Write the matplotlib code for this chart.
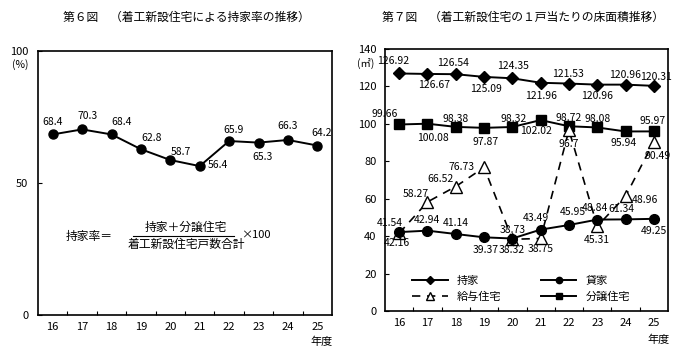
import numpy as np
import matplotlib.pyplot as plt
from matplotlib.lines import Line2D

plt.rcParams['font.family'] = ['Noto Sans CJK JP', 'DejaVu Sans']

# data
years = ['16', '17', '18', '19', '20', '21', '22', '23', '24', '25']
rate = [68.4, 70.3, 68.4, 62.8, 58.7, 56.4, 65.9, 65.3, 66.3, 64.2]

mochiie = [126.92, 126.67, 126.54, 125.09, 124.35, 121.96, 121.53, 120.96, 120.96, 120.31]
bunjo = [99.66, 100.08, 98.38, 97.87, 98.32, 102.02, 98.72, 98.08, 95.94, 95.97]
kashiya = [42.16, 42.94, 41.14, 39.37, 38.73, 43.49, 45.95, 48.84, 48.96, 49.25]
kyuyo = [41.54, 58.27, 66.52, 76.73, 38.32, 38.75, 96.7, 45.31, 61.34, 90.49]

# label texts as printed on the chart (24 labels are swapped in the original)
kashiya_txt = ['42.16', '42.94', '41.14', '39.37', '38.73', '43.49', '45.95', '48.84', '61.34', '49.25']
kyuyo_txt = ['41.54', '58.27', '66.52', '76.73', '38.32', '38.75', '96.7', '45.31', '48.96', '90.49']

# label offsets in pixels (dx, dy)
rate_off = [(0, 12), (5, 13), (10, 12), (11, 11), (11, 8), (18, 1), (4, 11), (4, -14), (0, 14), (4, 13)]
mochi_off = [(-6, 12), (7, -11), (-3, 11), (2, -12), (1, 12), (0, -13), (-1, 10), (0, -11), (0, 10), (2, 9)]
bunjo_off = [(-14, 10), (6, -14), (0, 8), (2, -14), (1, 8), (-5, -11), (0, 8), (0, 8), (-2, -12), (-1, 10)]
kyuyo_off = [(-9, 10), (-12, 8), (-15, 8), (-23, 0), (-1, -11), (0, -11), (0, -14), (0, -14), (19, -4), (4, -14)]
kashi_off = [(-2, -11), (0, 11), (0, 11), (2, -13), (0, 9), (-5, 12), (4, 13), (-2, 12), (-4, 10), (0, -12)]

fig = plt.figure(figsize=(6.89, 3.58), dpi=100)
W, H = 689, 358

def box(x0, y0, x1, y1):
    return [x0 / W, 1 - y1 / H, (x1 - x0) / W, (y1 - y0) / H]

x = np.arange(len(years))
lab_fs = 7.5

# ---- left chart ----
ax1 = fig.add_axes(box(38, 51, 332, 315))
ax1.plot(x, rate, color='black', lw=1.4, marker='o', ms=6.5)
for i, v in enumerate(rate):
    ax1.annotate(f'{v:.1f}', (x[i], v), xytext=rate_off[i], textcoords='offset pixels',
                 ha='center', va='center', fontsize=lab_fs)
ax1.set_ylim(0, 100)
ax1.set_yticks([0, 50, 100])
ax1.set_xlim(-0.5, 9.5)
ax1.set_xticks(np.arange(0.5, 9.5, 1))
ax1.set_xticklabels([])
ax1.set_xticks(x, minor=True)
ax1.set_xticklabels(years, minor=True, fontsize=8)
ax1.tick_params(axis='x', which='minor', length=0, pad=5)
ax1.tick_params(axis='x', which='major', direction='in', length=3)
ax1.tick_params(axis='y', direction='in', length=3, labelsize=8, pad=7)
ax1.text(-0.061, 0.947, '(%)', transform=ax1.transAxes, ha='center', va='center', fontsize=7.5)
ax1.text(0.965, -0.1, '年度', transform=ax1.transAxes, ha='center', va='center', fontsize=8)
for s in ax1.spines.values():
    s.set_linewidth(1.2)

# formula
fig.text(89 / W, 1 - 236 / H, '持家率＝', ha='center', va='center', fontsize=8.5)
fig.text(186 / W, 1 - 227 / H, '持家＋分譲住宅', ha='center', va='center', fontsize=8.5)
fig.text(186 / W, 1 - 244 / H, '着工新設住宅戸数合計', ha='center', va='center', fontsize=8.5)
fig.add_artist(Line2D([133 / W, 234 / W], [1 - 235.5 / H, 1 - 235.5 / H], color='black', lw=0.8))
fig.text(256 / W, 1 - 235 / H, '×100', ha='center', va='center', fontsize=8)

# ---- right chart ----
ax2 = fig.add_axes(box(385, 49, 668, 311))
l1, = ax2.plot(x, mochiie, color='black', lw=1.4, marker='D', ms=6, label='持家')
l4, = ax2.plot(x, bunjo, color='black', lw=1.4, marker='s', ms=7, label='分譲住宅')
l3, = ax2.plot(x, kyuyo, color='black', lw=1.2, ls=(0, (5, 4)), marker='^', ms=9,
               mfc='white', mec='black', mew=1.0, label='給与住宅')
l2, = ax2.plot(x, kashiya, color='black', lw=1.4, marker='o', ms=7, label='貸家')

for vals, txts, offs in [(mochiie, [f'{v:.2f}' for v in mochiie], mochi_off),
                         (bunjo, [f'{v:.2f}' for v in bunjo], bunjo_off),
                         (kyuyo, kyuyo_txt, kyuyo_off),
                         (kashiya, kashiya_txt, kashi_off)]:
    for i, v in enumerate(vals):
        ax2.annotate(txts[i], (x[i], v), xytext=offs[i], textcoords='offset pixels',
                     ha='center', va='center', fontsize=lab_fs)

ax2.set_ylim(0, 140)
ax2.set_yticks(np.arange(0, 141, 20))
ax2.set_xlim(-0.5, 9.5)
ax2.set_xticks(np.arange(0.5, 9.5, 1))
ax2.set_xticklabels([])
ax2.set_xticks(x, minor=True)
ax2.set_xticklabels(years, minor=True, fontsize=8)
ax2.tick_params(axis='x', which='minor', length=0, pad=5)
ax2.tick_params(axis='x', which='major', direction='in', length=3)
ax2.tick_params(axis='y', direction='in', length=3, labelsize=8, pad=6)
ax2.text(-0.07, 0.946, '(㎡)', transform=ax2.transAxes, ha='center', va='center', fontsize=7.5)
ax2.text(0.965, -0.11, '年度', transform=ax2.transAxes, ha='center', va='center', fontsize=8)
for s in ax2.spines.values():
    s.set_linewidth(1.2)

leg = ax2.legend(handles=[l1, l3, l2, l4], ncol=2, frameon=False, fontsize=8,
                 loc='lower left', bbox_to_anchor=(0.06, -0.005), handlelength=3.2,
                 columnspacing=3.6, labelspacing=0.5, markerscale=0.65)

# titles
fig.text(186 / W, 1 - 17 / H, '第６図　（着工新設住宅による持家率の推移）', ha='center', va='center', fontsize=8.5)
fig.text(523 / W, 1 - 17 / H, '第７図　（着工新設住宅の１戸当たりの床面積推移）', ha='center', va='center', fontsize=8.5)

fig.savefig('out.png', dpi=100)
